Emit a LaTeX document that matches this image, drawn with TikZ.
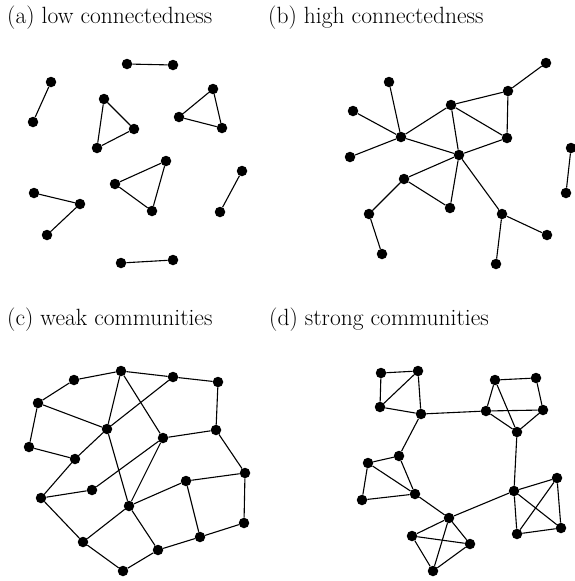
\documentclass[tikz,border=0pt]{standalone}
\usepackage{tikz}
\tikzstyle{vertex} = [circle, fill=black, inner sep=0pt, minimum size=10.5pt]
\tikzstyle{edge} = [line width=1.1pt, black]
\tikzstyle{caption} = [anchor=base west, inner sep=0pt, font=\fontsize{23.5}{27}\selectfont]

\begin{document}
\begin{tikzpicture}[x=1pt, y=-1pt]

    \useasboundingbox (0,0) rectangle (574,581);

    % Captions
    \node (capa) [caption] at (7,23) {(a) low connectedness};
    \node (capb) [caption] at (268,23) {(b) high connectedness};
    \node (capc) [caption] at (7,325) {(c) weak communities};
    \node (capd) [caption] at (269,325) {(d) strong communities};

    % Place nodes: (a) low connectedness
    \foreach \n/\x/\y in {a1/127/64, a2/173/65, a3/51/82, a4/33/122,
        a5/104/99, a6/134/129, a7/97/148, a8/213/89, a9/179/117, a10/222/128,
        a11/166/161, a12/115/184, a13/152/211, a14/242/171, a15/220/212,
        a16/34/193, a17/80/204, a18/47/235, a19/121/263, a20/173/260}
        \node (\n) [vertex] at (\x,\y) {};

    % Place nodes: (b) high connectedness
    \foreach \n/\x/\y in {b1/546/63, b2/508/91, b3/451/105, b4/507/138,
        b5/459/155, b6/401/137, b7/389/82, b8/353/111, b9/350/157,
        b10/404/179, b11/450/208, b12/369/214, b13/382/254, b14/502/214,
        b15/547/235, b16/496/264, b17/571/148, b18/566/193}
        \node (\n) [vertex] at (\x,\y) {};

    % Place nodes: (c) weak communities
    \foreach \n/\x/\y in {c1/121/371, c2/74/380, c3/38/403, c4/173/377,
        c5/218/382, c6/107/429, c7/163/438, c8/216/430, c9/29/447,
        c10/75/459, c11/245/473, c12/186/481, c13/92/490, c14/41/498,
        c15/129/506, c16/244/523, c17/200/537, c18/83/542, c19/158/550,
        c20/123/571}
        \node (\n) [vertex] at (\x,\y) {};

    % Place nodes: (d) strong communities
    \foreach \n/\x/\y in {d1/381/373, d2/418/371, d3/380/407, d4/421/414,
        d5/486/411, d6/495/380, d7/536/378, d8/543/410, d9/517/432,
        d10/399/456, d11/368/463, d12/362/500, d13/415/494, d14/449/518,
        d15/412/536, d16/470/544, d17/433/571, d18/514/491, d19/557/478,
        d20/561/528, d21/517/534}
        \node (\n) [vertex] at (\x,\y) {};

    % Draw edges
    \foreach \u/\v in {a1/a2, a3/a4, a5/a6, a6/a7, a7/a5, a8/a9, a9/a10,
        a10/a8, a11/a12, a12/a13, a13/a11, a14/a15, a16/a17, a17/a18,
        a19/a20}
        \draw [edge] (\u) -- (\v);

    \foreach \u/\v in {b1/b2, b2/b3, b2/b4, b3/b4, b3/b6, b3/b5, b4/b5,
        b6/b5, b7/b6, b8/b6, b9/b6, b5/b10, b10/b11, b5/b11, b10/b12,
        b12/b13, b5/b14, b14/b15, b14/b16, b17/b18}
        \draw [edge] (\u) -- (\v);

    \foreach \u/\v in {c1/c2, c2/c3, c1/c4, c4/c5, c5/c8, c1/c6, c1/c7,
        c4/c6, c3/c6, c3/c9, c9/c10, c6/c10, c6/c15, c7/c8, c7/c13,
        c7/c15, c8/c11, c11/c12, c11/c16, c10/c14, c14/c13, c14/c18,
        c15/c12, c15/c18, c15/c19, c12/c17, c16/c17, c17/c19, c18/c20,
        c20/c19}
        \draw [edge] (\u) -- (\v);

    \foreach \u/\v in {d1/d2, d1/d3, d2/d3, d2/d4, d3/d4, d4/d5, d4/d10,
        d6/d7, d7/d8, d6/d5, d5/d8, d6/d9, d5/d9, d8/d9, d9/d18,
        d10/d11, d11/d12, d11/d13, d10/d13, d12/d13, d13/d14, d14/d18,
        d14/d15, d14/d16, d15/d16, d15/d17, d17/d16, d14/d17,
        d18/d19, d18/d21, d18/d20, d19/d21, d19/d20, d21/d20}
        \draw [edge] (\u) -- (\v);

\end{tikzpicture}
\end{document}
